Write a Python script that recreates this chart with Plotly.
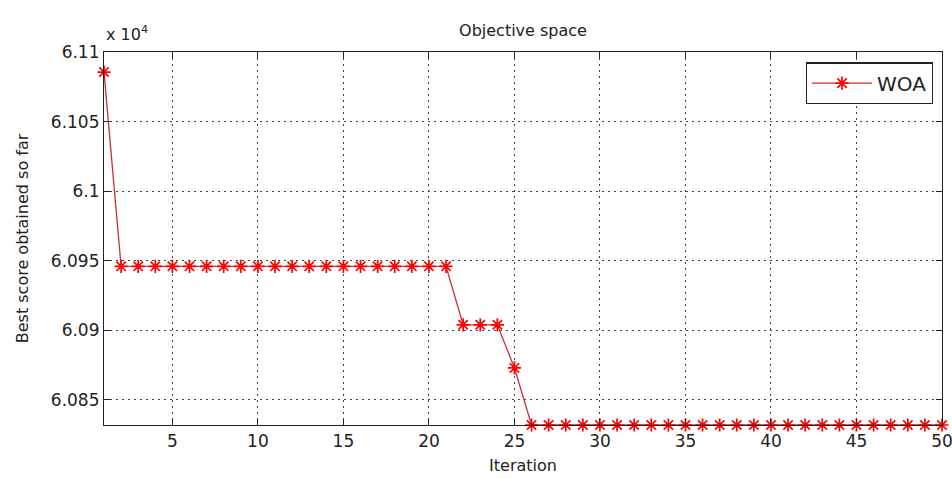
import plotly.graph_objects as go

# Convergence curve of the whale optimisation algorithm
iterations = list(range(1, 51))
best_score = (
    [61085.6]
    + [60946.0] * 20
    + [60904.0] * 3
    + [60873.0]
    + [60832.0] * 25
)

scale = 1e4
y_ticks = [6.085, 6.09, 6.095, 6.1, 6.105, 6.11]
y_tick_text = ["6.085", "6.09", "6.095", "6.1", "6.105", "6.11"]
x_ticks = [5, 10, 15, 20, 25, 30, 35, 40, 45, 50]

font_family = "DejaVu Sans, Arial, sans-serif"
txt_color = "#222222"

fig = go.Figure()
fig.add_trace(go.Scatter(
    x=iterations,
    y=[v / scale for v in best_score],
    mode="lines+markers",
    name="WOA",
    line=dict(color="#c4303c", width=1.3),
    marker=dict(symbol="asterisk-open", size=11, color="#ff0000",
                line=dict(color="#ff0000", width=1.7)),
    cliponaxis=False,
))

axis_common = dict(
    showline=True, linecolor="#222222", linewidth=1.2, mirror="ticks",
    ticks="inside", ticklen=6, tickcolor="#222222", tickwidth=1.2,
    showgrid=True, gridcolor="#444444", gridwidth=1, griddash="1.5px,4.5px",
    zeroline=False, ticklabeloverflow="allow", automargin=False,
    tickfont=dict(family=font_family, size=17, color=txt_color),
)

fig.update_xaxes(
    range=[1, 50], tickvals=x_ticks,
    title=dict(text="Iteration", font=dict(family=font_family, size=16, color=txt_color),
               standoff=10),
    **axis_common,
)
fig.update_yaxes(
    range=[min(best_score) / scale, 6.11], tickvals=y_ticks, ticktext=y_tick_text,
    title=dict(text="Best score obtained so far",
               font=dict(family=font_family, size=16, color=txt_color), standoff=18),
    **axis_common,
)

fig.add_annotation(
    text="x 10<sup>4</sup>", xref="paper", yref="paper", x=0.0, y=1.0,
    xanchor="left", yanchor="bottom", showarrow=False, yshift=6,
    font=dict(family=font_family, size=16, color=txt_color),
)

fig.update_layout(
    width=952, height=479,
    margin=dict(l=104, r=10, t=52, b=54),
    paper_bgcolor="white", plot_bgcolor="white",
    title=dict(text="Objective space", x=0.5, xref="paper",
               y=1, yref="paper", yanchor="bottom", pad=dict(b=16),
               font=dict(family=font_family, size=16, color=txt_color)),
    showlegend=True,
    legend=dict(x=0.989, y=0.972, xanchor="right", yanchor="top",
                bordercolor="#222222", borderwidth=1.2, bgcolor="white",
                font=dict(family=font_family, size=20, color=txt_color),
                itemwidth=60),
)

fig.write_html("out.html")
